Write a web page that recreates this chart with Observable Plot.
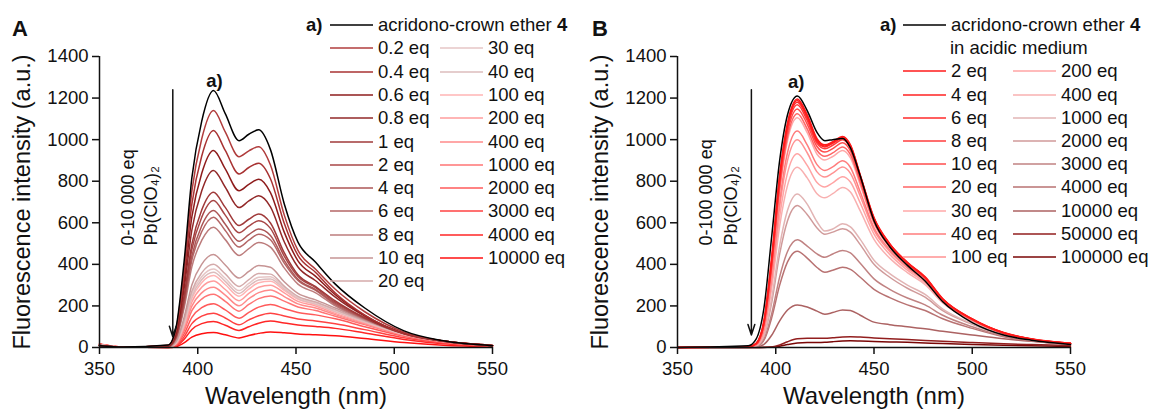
<!DOCTYPE html>
<html><head><meta charset="utf-8">
<script src="https://cdn.jsdelivr.net/npm/d3@7"></script>
<script src="https://cdn.jsdelivr.net/npm/@observablehq/plot@0.6"></script>
<style>
body{margin:0;background:#fff;font-family:"Liberation Sans",Arial,sans-serif;}
#wrap{position:relative;width:1151px;height:412px;overflow:hidden;background:#fff;}
.panel{position:absolute;top:0;}
.panel g[aria-label$="tick label"]{font-size:18.5px;}
.leg{position:absolute;font-size:18.5px;line-height:20px;color:#111;white-space:nowrap;}
.leg svg{vertical-align:top;}
.leg span{margin-left:5px;vertical-align:top;}
.letter{position:absolute;font-weight:bold;font-size:22px;line-height:1;color:#111;}
</style></head><body><div id="wrap"></div>
<script>
// ---------- ticks ----------
const xTicks = [350, 400, 450, 500, 550];
const yTicks = [0, 200, 400, 600, 800, 1000, 1200, 1400];

// ---------- Panel A ----------
const wavelengthA = [350, 362, 385, 389, 393, 397, 402, 408, 414, 421, 426, 431, 437, 444, 451, 460, 470, 485, 505, 525, 550];
const labelsA = ["acridono-crown ether 4", "0.2 eq", "0.4 eq", "0.6 eq", "0.8 eq", "1 eq", "2 eq", "4 eq", "6 eq", "8 eq", "10 eq", "20 eq",
  "30 eq", "40 eq", "100 eq", "200 eq", "400 eq", "1000 eq", "2000 eq", "3000 eq", "4000 eq", "10000 eq"];
const colorsA = ["#000000", "#b03c3c", "#a83232", "#8e1c1c", "#922828", "#a03a3a", "#a84646", "#ac5656", "#b46666", "#bc7c7c", "#c69494", "#d4aaaa",
  "#e6c6c6", "#dcbcbc", "#ffb4b4", "#ff9c9c", "#ff8a8a", "#ff7474", "#ff5a5a", "#ff4242", "#ff2626", "#ff1010"];
const intensityA = [
  [8, 2, 12, 99, 408, 816, 1088, 1236, 1125, 995, 1026, 1047, 952, 692, 507, 410, 305, 190, 80, 32, 9],
  [10, 2, 11, 91, 376, 752, 1003, 1140, 1037, 918, 946, 966, 878, 638, 467, 376, 280, 172, 74, 30, 9],
  [10, 2, 10, 83, 344, 690, 920, 1044, 948, 835, 866, 887, 812, 598, 443, 361, 262, 156, 66, 30, 9],
  [10, 2, 9, 74, 311, 628, 837, 948, 859, 754, 785, 809, 745, 555, 417, 342, 254, 154, 68, 31, 9],
  [10, 2, 8, 66, 279, 565, 753, 852, 771, 673, 705, 730, 677, 509, 387, 321, 242, 151, 68, 31, 9],
  [10, 2, 7, 57, 244, 497, 661, 747, 674, 587, 617, 642, 599, 456, 350, 293, 224, 143, 66, 30, 9],
  [10, 2, 6, 53, 230, 471, 626, 707, 637, 552, 584, 610, 573, 440, 342, 288, 218, 142, 68, 31, 10],
  [10, 2, 5, 49, 214, 440, 585, 659, 593, 511, 543, 570, 539, 419, 328, 279, 212, 140, 68, 31, 10],
  [10, 2, 5, 46, 203, 419, 557, 627, 563, 483, 516, 545, 518, 406, 322, 275, 206, 138, 68, 31, 10],
  [10, 2, 4, 42, 187, 388, 515, 579, 519, 443, 476, 505, 483, 383, 305, 263, 200, 136, 67, 31, 10],
  [12, 2, 3, 31, 143, 301, 400, 447, 397, 334, 366, 395, 386, 316, 260, 229, 190, 132, 67, 31, 10],
  [12, 2, 2, 27, 127, 271, 359, 400, 354, 294, 327, 356, 353, 295, 246, 219, 182, 128, 66, 30, 10],
  [12, 2, 2, 25, 119, 257, 340, 378, 333, 274, 308, 338, 340, 288, 240, 214, 178, 126, 65, 30, 10],
  [12, 2, 2, 23, 114, 246, 326, 362, 318, 260, 295, 325, 330, 282, 236, 210, 174, 124, 64, 30, 10],
  [13, 2, 2, 22, 108, 236, 312, 346, 303, 247, 281, 312, 319, 275, 232, 206, 170, 122, 63, 30, 10],
  [13, 2, 1, 20, 100, 219, 290, 320, 279, 225, 260, 290, 300, 263, 222, 200, 164, 118, 62, 29, 10],
  [14, 2, 1, 17, 90, 199, 263, 290, 252, 201, 235, 264, 277, 245, 210, 190, 158, 114, 60, 28, 9],
  [15, 2, 1, 15, 79, 177, 233, 256, 222, 175, 207, 235, 248, 223, 195, 178, 150, 110, 58, 27, 9],
  [15, 2, 0, 12, 64, 145, 192, 210, 181, 141, 169, 194, 207, 188, 168, 157, 138, 100, 54, 25, 8],
  [16, 2, 0, 9, 50, 115, 151, 165, 142, 109, 133, 153, 165, 152, 137, 128, 114, 86, 47, 22, 7],
  [16, 2, 0, 7, 38, 87, 115, 125, 107, 82, 100, 117, 127, 118, 108, 101, 92, 70, 39, 18, 6],
  [17, 2, 0, 4, 22, 50, 66, 72, 61, 46, 58, 68, 75, 71, 65, 61, 56, 43, 24, 11, 4]
];

// ---------- Panel B ----------
const wavelengthB = [350, 386, 390, 394, 398, 402, 406, 411, 416, 421, 425, 429, 434, 438, 443, 450, 458, 467, 476, 485, 500, 516, 530, 550];
const labelsB = ["acridono-crown ether 4 in acidic medium", "2 eq", "4 eq", "6 eq", "8 eq", "10 eq", "20 eq", "30 eq", "40 eq", "100 eq",
  "200 eq", "400 eq", "1000 eq", "2000 eq", "3000 eq", "4000 eq", "10000 eq", "50000 eq", "100000 eq"];
const colorsB = ["#000000", "#ff1a1a", "#ff2222", "#ff2a2a", "#ff3c3c", "#ff4c4c", "#ff6464", "#ffa8a8", "#ff7c7c", "#ff9292",
  "#ffa4a4", "#f8b0b0", "#e2b4b4", "#d09a9a", "#c08282", "#b87272", "#ac6262", "#921e1e", "#7a0606"];
const intensityB = [
  [0, 8, 40, 190, 540, 900, 1120, 1210, 1140, 1035, 995, 1000, 1005, 960, 825, 610, 485, 395, 320, 220, 120, 60, 35, 15],
  [0, 3, 20, 130, 440, 830, 1080, 1195, 1120, 1005, 975, 990, 1015, 975, 830, 625, 500, 410, 340, 235, 138, 72, 42, 20],
  [0, 3, 19, 125, 430, 820, 1072, 1188, 1112, 998, 970, 986, 1012, 972, 828, 622, 498, 408, 338, 233, 137, 71, 41, 20],
  [0, 3, 18, 120, 420, 810, 1064, 1180, 1105, 991, 965, 982, 1008, 968, 825, 620, 497, 407, 337, 232, 136, 70, 41, 20],
  [0, 3, 17, 115, 410, 800, 1052, 1168, 1092, 982, 956, 973, 1000, 960, 818, 616, 494, 405, 336, 231, 135, 70, 40, 19],
  [0, 3, 16, 110, 400, 785, 1035, 1148, 1075, 967, 940, 957, 985, 946, 808, 610, 490, 402, 333, 229, 134, 69, 40, 19],
  [0, 3, 15, 105, 385, 765, 1013, 1124, 1052, 948, 920, 936, 965, 928, 795, 603, 486, 399, 330, 228, 133, 69, 40, 19],
  [0, 2, 14, 100, 375, 750, 996, 1105, 1034, 930, 902, 919, 948, 912, 782, 596, 481, 395, 328, 227, 133, 69, 40, 19],
  [0, 2, 13, 92, 350, 705, 938, 1041, 975, 880, 852, 869, 898, 866, 748, 576, 470, 388, 322, 224, 132, 68, 39, 19],
  [0, 2, 12, 88, 335, 676, 900, 999, 937, 845, 820, 839, 868, 838, 728, 565, 462, 382, 318, 222, 131, 68, 39, 18],
  [0, 2, 11, 82, 312, 630, 840, 932, 876, 794, 772, 792, 822, 796, 695, 545, 448, 372, 310, 218, 129, 67, 38, 18],
  [0, 2, 10, 75, 290, 585, 780, 867, 816, 740, 720, 740, 770, 748, 657, 520, 430, 360, 302, 214, 127, 66, 38, 18],
  [0, 2, 8, 60, 240, 490, 660, 739, 690, 605, 560, 570, 595, 580, 520, 420, 355, 300, 255, 185, 115, 62, 36, 17],
  [0, 2, 7, 55, 220, 450, 610, 683, 640, 575, 545, 555, 571, 555, 495, 400, 338, 285, 242, 177, 112, 60, 35, 17],
  [0, 1, 5, 40, 165, 340, 462, 518, 488, 450, 434, 450, 467, 455, 405, 330, 280, 238, 205, 155, 100, 55, 33, 16],
  [0, 1, 4, 35, 145, 300, 412, 463, 430, 385, 362, 372, 386, 376, 338, 280, 240, 205, 178, 138, 92, 52, 31, 15],
  [0, 0, 2, 15, 60, 128, 180, 205, 195, 175, 160, 168, 181, 178, 155, 122, 110, 100, 90, 78, 60, 42, 30, 18],
  [0, 0, 0, 1, 3, 12, 28, 42, 45, 44, 44, 47, 51, 52, 50, 46, 42, 38, 34, 30, 24, 18, 14, 9],
  [0, 0, 0, 0, 2, 6, 14, 22, 24, 24, 25, 28, 31, 32, 31, 29, 27, 25, 22, 19, 15, 11, 8, 5]
];

// ---------- drawing ----------
const FONT = "Liberation Sans, Arial, sans-serif";
function makePanel(wl, labels, colors, values, ann) {
  const data = [];
  // draw high-eq curves first, black reference last
  const order = d3.range(values.length - 1, -1, -1);
  order.forEach(i => values[i].forEach((v, j) => data.push({wl: wl[j], v, s: labels[i]})));
  return Plot.plot({
    width: 575, height: 412,
    marginLeft: 99, marginRight: 83, marginTop: 56, marginBottom: 65,
    style: {fontFamily: FONT, fontSize: "18.5px", color: "#111", background: "transparent", overflow: "visible"},
    x: {domain: [350, 550]},
    y: {domain: [0, 1400]},
    color: {domain: labels, range: colors},
    marks: [
      Plot.line(data, {x: "wl", y: "v", z: "s", stroke: "s", strokeWidth: 1.5, curve: "monotone-x"}),
      Plot.ruleX([350], {stroke: "#111", strokeWidth: 1.5}),
      Plot.ruleY([0], {stroke: "#111", strokeWidth: 1.5}),
      Plot.axisX({ticks: xTicks, tickSize: 7, tickPadding: 7, tickFormat: d => String(d), label: null, fontSize: 18.5, strokeWidth: 1.5}),
      Plot.axisY({ticks: yTicks, tickSize: 7, tickPadding: 4, tickFormat: d => String(d), label: null, fontSize: 18.5, strokeWidth: 1.5}),
      Plot.text(["Wavelength (nm)"], {text: d => d, frameAnchor: "bottom", lineAnchor: "middle", dy: 49, fontSize: 24, fill: "#111"}),
      Plot.text(["Fluorescence intensity (a.u.)"], {text: d => d, frameAnchor: "left", dx: -77, rotate: -90, textAnchor: "middle", lineAnchor: "middle", fontSize: 23.5, fill: "#111"}),
      Plot.arrow([ann.arrow], {x: "x", y1: "y1", y2: "y2", stroke: "#111", strokeWidth: 1.5, headLength: 11, headAngle: 36}),
      Plot.text(["a)"], {text: d => d, x: ann.a[0], y: ann.a[1], fontWeight: "bold", fontSize: 18.5, fill: "#111"}),
      Plot.text([ann.line1], {text: d => d, x: ann.l1x, y: 491, rotate: -90, textAnchor: "start", fontSize: 18, fill: "#111"}),
      Plot.text(["Pb(ClO₄)₂"], {text: d => d, x: ann.l2x, y: 491, rotate: -90, textAnchor: "start", fontSize: 18, fill: "#111"})
    ]
  });
}

const wrap = document.getElementById("wrap");
const svgA = makePanel(wavelengthA, labelsA, colorsA, intensityA,
  {arrow: {x: 387.3, y1: 1240, y2: 52}, a: [408.5, 1282], line1: "0-10 000 eq", l1x: 364.8, l2x: 376.5});
svgA.classList.add("panel"); svgA.style.left = "0px";
wrap.appendChild(svgA);
const svgB = makePanel(wavelengthB, labelsB, colorsB, intensityB,
  {arrow: {x: 387.6, y1: 1240, y2: 60}, a: [410.4, 1275], line1: "0-100 000 eq", l1x: 364.8, l2x: 377.5});
svgB.classList.add("panel"); svgB.style.left = "578px";
wrap.appendChild(svgB);

function addDiv(cls, x, y, html) {
  const d = document.createElement("div");
  d.className = cls; d.style.left = x + "px"; d.style.top = y + "px"; d.innerHTML = html;
  wrap.appendChild(d); return d;
}
function legendRow(x, yc, color, html) {
  addDiv("leg", x, yc - 10,
    `<svg width="43" height="20"><line x1="0" x2="43" y1="10" y2="10" stroke="${color}" stroke-width="1.5"/></svg><span>${html}</span>`);
}
function labelHtml(s) {
  return s.replace(/ether 4/, "ether <b>4</b>");
}
addDiv("letter", 12, 18, "A");
addDiv("letter", 592, 18, "B");

// Legend A
const rowA = k => 25 + 23.3 * k;
addDiv("leg", 306, rowA(0) - 10, "<b>a)</b>");
labelsA.forEach((lab, i) => {
  if (i <= 11) legendRow(330, rowA(i), colorsA[i], labelHtml(lab));
  else legendRow(440, rowA(i - 11), colorsA[i], labelHtml(lab));
});

// Legend B
const rowB = k => 25 + 23.2 * k;
addDiv("leg", 880, rowB(0) - 10, "<b>a)</b>");
legendRow(903, rowB(0), colorsB[0], labelHtml("acridono-crown ether 4"));
addDiv("leg", 950, rowB(1) - 10, "in acidic medium");
labelsB.forEach((lab, i) => {
  if (i === 0) return;
  if (i <= 9) legendRow(903, rowB(i + 1), colorsB[i], lab);
  else legendRow(1013, rowB(i - 8), colorsB[i], lab);
});
</script></body></html>
